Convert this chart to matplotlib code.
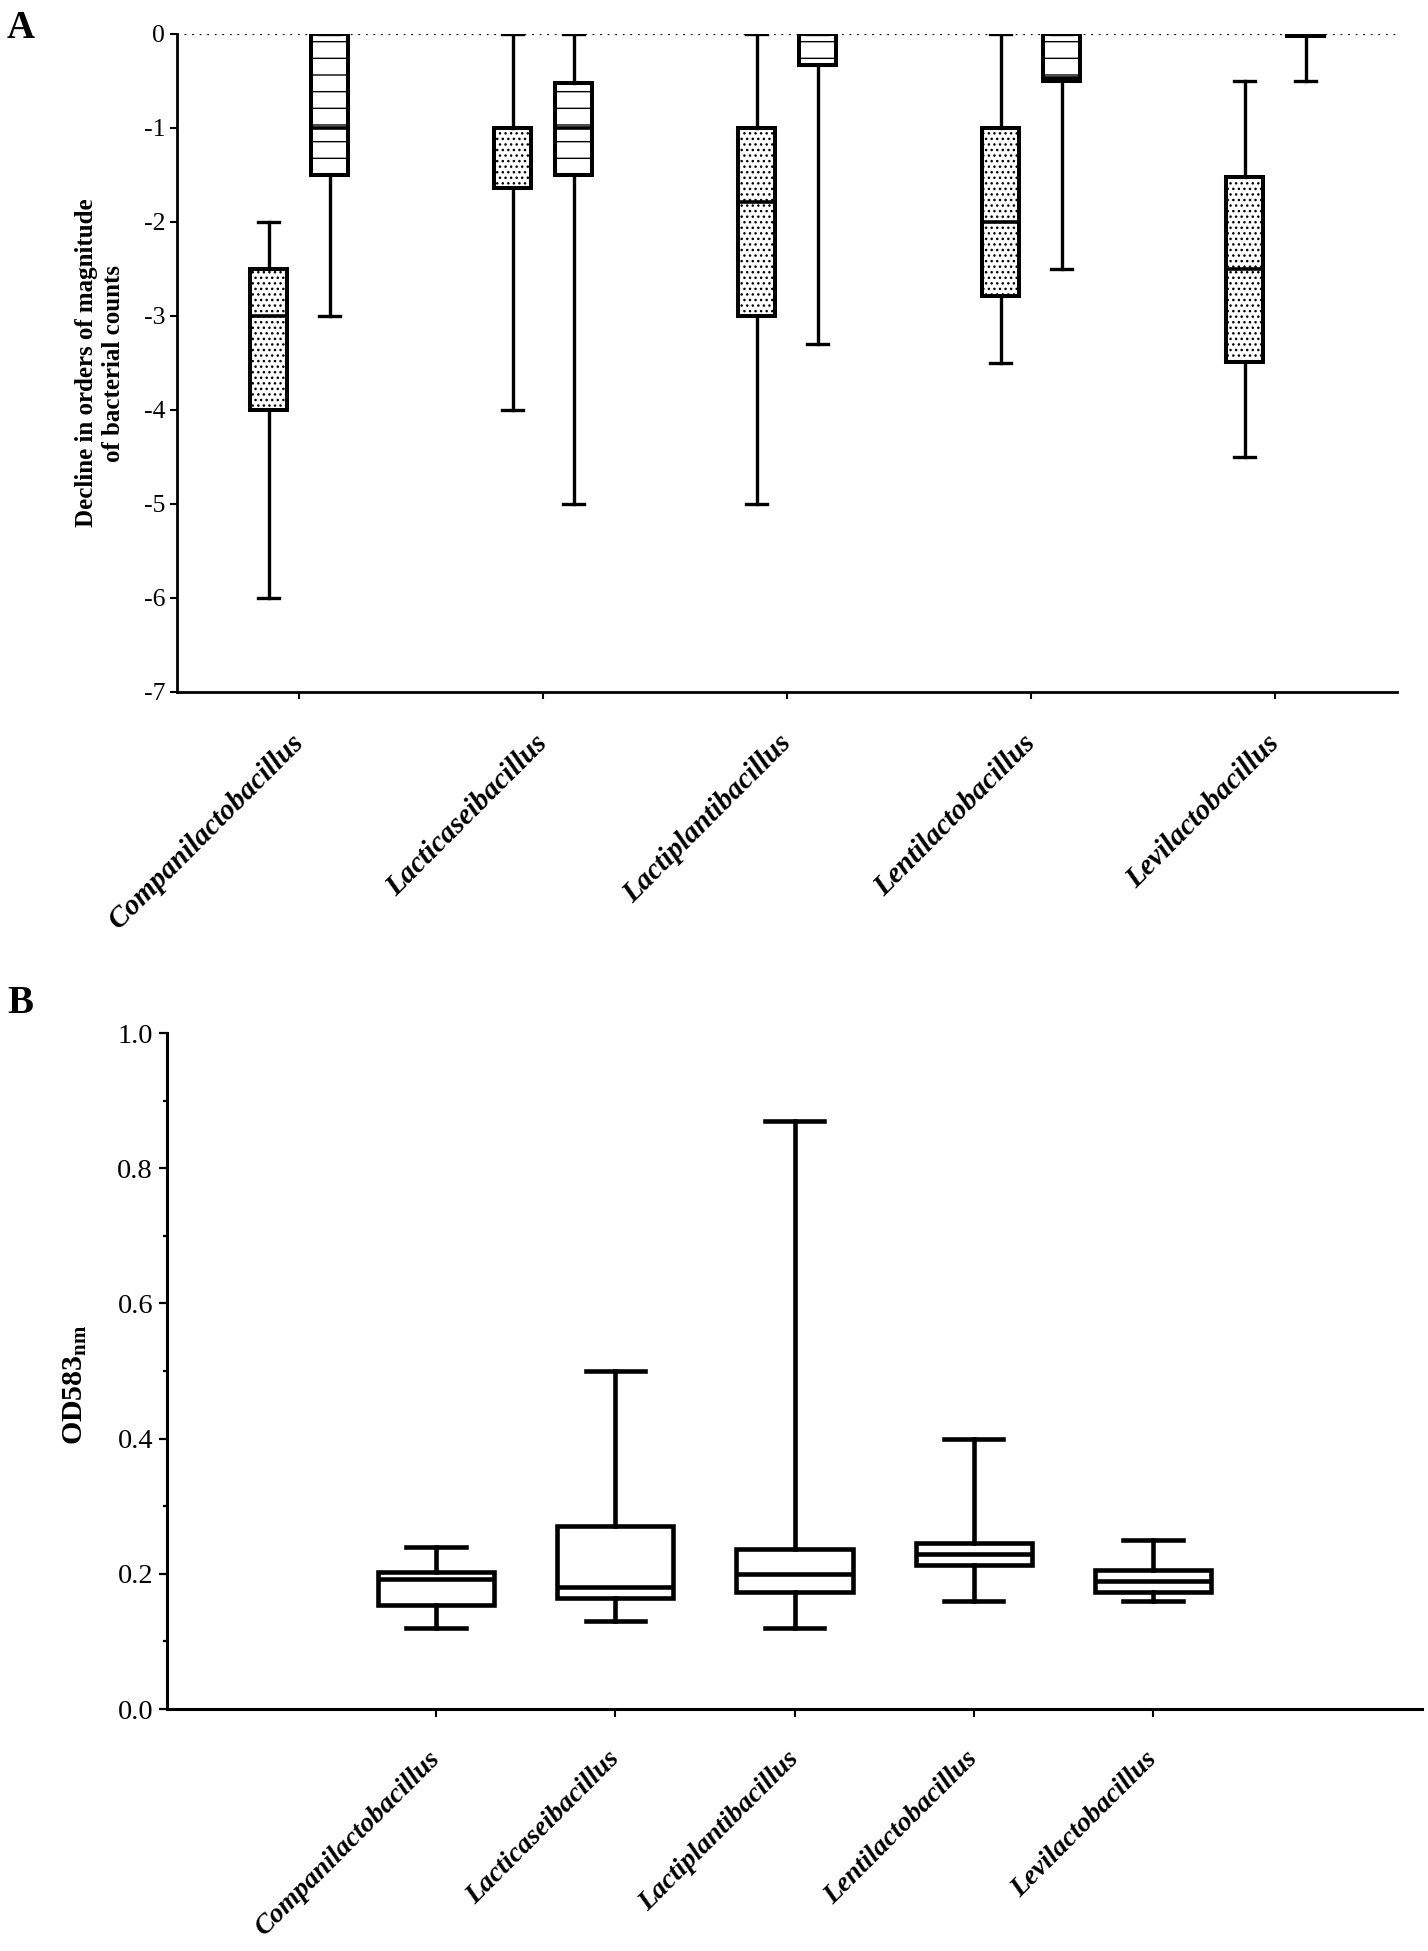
import matplotlib
matplotlib.use("Agg")
import matplotlib.pyplot as plt
import matplotlib.transforms as mtransforms
from matplotlib.ticker import MultipleLocator

plt.rcParams['font.family'] = ['Liberation Serif', 'DejaVu Serif']
plt.rcParams['mathtext.fontset'] = 'custom'
plt.rcParams['mathtext.rm'] = 'Liberation Serif'
plt.rcParams['mathtext.bf'] = 'Liberation Serif:bold'
plt.rcParams['hatch.linewidth'] = 1.0

# ---------------- data ----------------
genera = ['Companilactobacillus', 'Lacticaseibacillus', 'Lactiplantibacillus',
          'Lentilactobacillus', 'Levilactobacillus']

# Panel A - dotted boxes
dot_min = [-6.0, -4.0, -5.0, -3.5, -4.5]
dot_q1 = [-4.0, -1.64, -3.0, -2.79, -3.49]
dot_med = [-3.0, -1.0, -1.79, -2.0, -2.5]
dot_q3 = [-2.5, -1.0, -1.0, -1.0, -1.52]
dot_max = [-2.0, 0.0, 0.0, 0.0, -0.5]

# Panel A - horizontally hatched boxes
hat_min = [-3.0, -5.0, -3.3, -2.5, -0.5]
hat_q1 = [-1.5, -1.5, -0.33, -0.5, -0.02]
hat_med = [-1.0, -1.0, 0.0, -0.47, 0.0]
hat_q3 = [0.0, -0.52, 0.0, 0.0, 0.0]
hat_max = [0.0, 0.0, 0.0, 0.0, 0.0]

# Panel B - OD583nm
od_min = [0.12, 0.13, 0.12, 0.16, 0.16]
od_q1 = [0.154, 0.164, 0.173, 0.213, 0.173]
od_med = [0.193, 0.18, 0.20, 0.23, 0.19]
od_q3 = [0.202, 0.271, 0.236, 0.246, 0.206]
od_max = [0.24, 0.50, 0.87, 0.40, 0.25]


def make_stats(lo, q1, med, q3, hi):
    return [dict(whislo=a, q1=b, med=c, q3=d, whishi=e, fliers=[])
            for a, b, c, d, e in zip(lo, q1, med, q3, hi)]


W, H = 1428, 1951
fig = plt.figure(figsize=(W / 100, H / 100), dpi=100)

# ---------------- Panel A ----------------
axA = fig.add_axes([177 / W, 1 - 692 / H, (1397 - 177) / W, (692 - 34) / H])
n = len(genera)
xpos = list(range(n))

axA.axhline(0, color='black', lw=1.6, dashes=(0.8, 2.6), zorder=0.5)

common = dict(patch_artist=True, showfliers=False, manage_ticks=False,
              widths=0.15, capwidths=0.087,
              medianprops=dict(color='black', lw=2.6),
              whiskerprops=dict(color='black', lw=2.4),
              capprops=dict(color='black', lw=2.4))

axA.bxp(make_stats(dot_min, dot_q1, dot_med, dot_q3, dot_max),
        positions=[p - 0.125 for p in xpos],
        boxprops=dict(facecolor='white', edgecolor='black', lw=2.9, hatch='...'),
        **common)
axA.bxp(make_stats(hat_min, hat_q1, hat_med, hat_q3, hat_max),
        positions=[p + 0.125 for p in xpos],
        boxprops=dict(facecolor='white', edgecolor='black', lw=2.9, hatch='-'),
        **common)

axA.set_xlim(-0.5, n - 0.5)
axA.set_ylim(-7, 0)
axA.set_yticks(range(-7, 1))
axA.set_yticklabels([str(v) for v in range(-7, 1)])
axA.set_xticks(xpos)
axA.set_xticklabels(genera, rotation=45, ha='right', va='top',
                    fontsize=21, fontweight='bold', fontstyle='italic')
axA.tick_params(axis='y', labelsize=18.5, length=5, width=1.5, pad=3.5)
axA.tick_params(axis='x', length=5, width=1.5, pad=22)
for s in ['top', 'right']:
    axA.spines[s].set_visible(False)
for s in ['left', 'bottom']:
    axA.spines[s].set_linewidth(2.0)
axA.set_ylabel('Decline in orders of magnitude\nof bacterial counts',
               fontsize=18, fontweight='bold', linespacing=1.2)
axA.yaxis.set_label_coords(-0.043, 0.5)
offA = mtransforms.ScaledTranslation(10 / 100, 0, fig.dpi_scale_trans)
for lab in axA.get_xticklabels():
    lab.set_transform(lab.get_transform() + offA)

fig.text(7 / W, 1 - 10 / H, 'A', fontsize=28, fontweight='bold', ha='left', va='top')

# ---------------- Panel B ----------------
axB = fig.add_axes([167 / W, 1 - 1709 / H, (1422 - 167) / W, (1709 - 1033) / H])
posB = [i + 1 for i in range(n)]
axB.bxp(make_stats(od_min, od_q1, od_med, od_q3, od_max),
        positions=posB, patch_artist=True, showfliers=False, manage_ticks=False,
        widths=0.65, capwidths=0.33,
        boxprops=dict(facecolor='white', edgecolor='black', lw=3.3),
        medianprops=dict(color='black', lw=3.3),
        whiskerprops=dict(color='black', lw=3.3),
        capprops=dict(color='black', lw=3.3))
axB.set_xlim(-0.5, n + 1.5)
axB.set_ylim(0, 1.0)
axB.yaxis.set_major_locator(MultipleLocator(0.2))
axB.yaxis.set_minor_locator(MultipleLocator(0.1))
axB.set_yticks([0.0, 0.2, 0.4, 0.6, 0.8, 1.0])
axB.set_yticklabels(['0.0', '0.2', '0.4', '0.6', '0.8', '1.0'])
axB.set_xticks(posB)
axB.set_xticklabels(genera, rotation=45, ha='right', va='top',
                    fontsize=20, fontweight='bold', fontstyle='italic')
axB.tick_params(axis='y', which='major', labelsize=20.5, length=6, width=1.6, pad=4)
axB.tick_params(axis='y', which='minor', length=3, width=1.6)
axB.tick_params(axis='x', length=6, width=1.5, pad=21)
for s in ['top', 'right']:
    axB.spines[s].set_visible(False)
for s in ['left', 'bottom']:
    axB.spines[s].set_linewidth(2.2)
axB.set_ylabel(r'$\mathbf{OD583_{nm}}$', fontsize=21.5)
axB.yaxis.set_label_coords(-0.062, 0.48)
offB = mtransforms.ScaledTranslation(9 / 100, 0, fig.dpi_scale_trans)
for lab in axB.get_xticklabels():
    lab.set_transform(lab.get_transform() + offB)

fig.text(7 / W, 1 - 985 / H, 'B', fontsize=28, fontweight='bold', ha='left', va='top')

fig.savefig('out.png', dpi=100)
